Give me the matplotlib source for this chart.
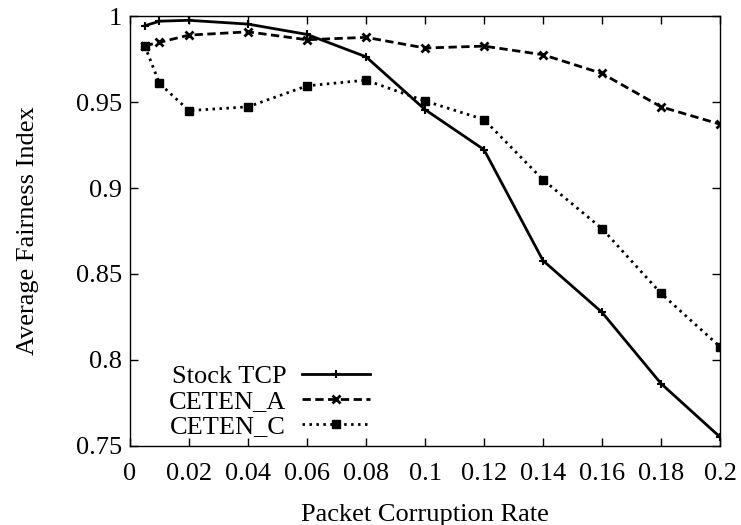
import matplotlib
matplotlib.use("Agg")
import matplotlib.pyplot as plt
from matplotlib.ticker import FuncFormatter

x = [0.005, 0.01, 0.02, 0.04, 0.06, 0.08, 0.10, 0.12, 0.14, 0.16, 0.18, 0.20]
stock_tcp = [0.9943, 0.9970, 0.9975, 0.9953, 0.9893, 0.9763, 0.9456, 0.9223, 0.8578, 0.8277, 0.7863, 0.7552]
ceten_a = [0.9827, 0.9847, 0.9889, 0.9908, 0.9862, 0.9876, 0.9814, 0.9825, 0.9775, 0.9666, 0.9472, 0.9371]
ceten_c = [0.9827, 0.9608, 0.9450, 0.9472, 0.9594, 0.9627, 0.9506, 0.9398, 0.9048, 0.8764, 0.8387, 0.8077]

xticks = [0, 0.02, 0.04, 0.06, 0.08, 0.1, 0.12, 0.14, 0.16, 0.18, 0.2]
yticks = [0.75, 0.8, 0.85, 0.9, 0.95, 1.0]

plt.rcParams['font.family'] = ['Liberation Serif', 'DejaVu Serif']
fs = 19

fig = plt.figure(figsize=(7.41, 5.25), dpi=100)
ax = fig.add_axes([0.1754, 0.1505, 0.7963, 0.819])

ax.plot(x, stock_tcp, color='black', lw=2, linestyle='-', marker='+', markersize=6, mew=1.5, label='Stock TCP')
ax.plot(x, ceten_a, color='black', lw=2, linestyle=(0, (3, 1.6)), marker='x', markersize=6, mew=2, label='CETEN_A')
ax.plot(x, ceten_c, color='black', lw=2, linestyle=(0, (0.9, 1.6)), marker='s', markersize=5.5, mew=1, label='CETEN_C')

ax.set_xlim(0, 0.2)
ax.set_ylim(0.75, 1.0)
ax.set_xticks(xticks)
ax.set_yticks(yticks)
fmt = FuncFormatter(lambda v, p: '%g' % round(v, 4))
ax.xaxis.set_major_formatter(fmt)
ax.yaxis.set_major_formatter(fmt)
ax.tick_params(direction='in', length=6, width=1, top=True, right=True, labelsize=fs)
ax.tick_params(axis='x', pad=12)
ax.tick_params(axis='y', pad=6)
for s in ax.spines.values():
    s.set_linewidth(1)

ax.set_xlabel('Packet Corruption Rate', fontsize=fs)
ax.set_ylabel('Average Fairness Index', fontsize=fs)
ax.xaxis.set_label_coords(0.5, -0.135)
ax.yaxis.set_label_coords(-0.155, 0.5)

leg = ax.legend(loc='lower left', bbox_to_anchor=(0.066, 0.019), frameon=False, fontsize=fs,
                markerfirst=False, handlelength=2.58, labelspacing=0.05, handletextpad=0.6,
                borderaxespad=0, borderpad=0)

fig.savefig('out.png', dpi=100)
